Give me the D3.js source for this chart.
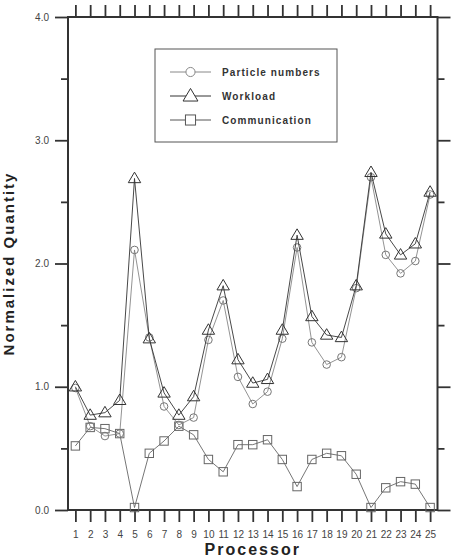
<!DOCTYPE html>
<html>
<head>
<meta charset="utf-8">
<script src="https://cdn.jsdelivr.net/npm/d3@7"></script>
<style>
  body { margin: 0; background: #fff; }
  svg { display: block; font-family: "Liberation Sans", Arial, sans-serif; }
</style>
</head>
<body>
<div class="vis-chart"></div>
<script>
// processor index 1..25
const processors = d3.range(1, 26);

const particleNumbers = [0.99, 0.68, 0.60, 0.62, 2.11, 1.40, 0.84, 0.69, 0.75, 1.38,
  1.70, 1.08, 0.86, 0.96, 1.39, 2.13, 1.36, 1.18, 1.24, 1.80,
  2.70, 2.07, 1.92, 2.02, 2.56];

const workload = [1.00, 0.77, 0.79, 0.89, 2.69, 1.39, 0.95, 0.77, 0.92, 1.46,
  1.82, 1.22, 1.03, 1.06, 1.46, 2.23, 1.57, 1.42, 1.40, 1.82,
  2.74, 2.24, 2.07, 2.16, 2.58];

const communication = [0.52, 0.67, 0.66, 0.62, 0.02, 0.46, 0.56, 0.68, 0.61, 0.41,
  0.31, 0.53, 0.53, 0.57, 0.41, 0.19, 0.41, 0.46, 0.44, 0.29,
  0.02, 0.18, 0.23, 0.21, 0.02];

const yMajor = [0, 1, 2, 3, 4];
const yMinor = [0.5, 1.5, 2.5, 3.5];

const seriesNames = ["Particle numbers", "Workload", "Communication"];

const draw = () => {
  const W = 457, H = 557;
  const left = 68, right = 437.5, top = 17, bottom = 510;

  const svg = d3.select(".vis-chart")
    .append("svg")
    .attr("width", W)
    .attr("height", H);

  const x = d3.scaleLinear().domain([0.5, 25.5]).range([left, right]);
  const y = d3.scaleLinear().domain([0, 4]).range([bottom, top]);

  const axisColor = "#333";

  // ticks
  const styleAxis = (g) => {
    g.select(".domain").remove();
    g.selectAll(".tick line").attr("stroke", axisColor).attr("stroke-width", 1.8);
    g.selectAll(".tick text").attr("fill", "#444").style("font-size", "10px");
  };

  svg.append("g")
    .attr("transform", "translate(" + left + ",0)")
    .call(d3.axisLeft(y).tickValues(yMajor).tickSize(13).tickPadding(6).tickFormat(d3.format(".1f")))
    .call(styleAxis);
  svg.append("g")
    .attr("transform", "translate(" + left + ",0)")
    .call(d3.axisLeft(y).tickValues(yMinor).tickSize(7).tickFormat(""))
    .call(styleAxis);
  svg.append("g")
    .attr("transform", "translate(" + right + ",0)")
    .call(d3.axisRight(y).tickValues(yMajor).tickSize(13).tickFormat(""))
    .call(styleAxis);
  svg.append("g")
    .attr("transform", "translate(" + right + ",0)")
    .call(d3.axisRight(y).tickValues(yMinor).tickSize(7).tickFormat(""))
    .call(styleAxis);
  svg.append("g")
    .attr("transform", "translate(0," + bottom + ")")
    .call(d3.axisBottom(x).tickValues(processors).tickSize(12).tickPadding(9).tickFormat(d3.format("d")))
    .call(styleAxis);
  svg.append("g")
    .attr("transform", "translate(0," + top + ")")
    .call(d3.axisTop(x).tickValues(processors).tickSize(12).tickFormat(""))
    .call(styleAxis);

  // frame
  svg.append("rect")
    .attr("x", left).attr("y", top)
    .attr("width", right - left).attr("height", bottom - top)
    .attr("fill", "none")
    .attr("stroke", axisColor)
    .attr("stroke-width", 2);

  // axis titles
  svg.append("text")
    .attr("transform", "translate(14," + (top + bottom) / 2 + ") rotate(-90)")
    .attr("text-anchor", "middle")
    .style("font-size", "15px")
    .style("font-weight", "bold")
    .style("letter-spacing", "2px")
    .attr("fill", "#222")
    .text("Normalized Quantity");

  svg.append("text")
    .attr("x", (left + right) / 2)
    .attr("y", 555)
    .attr("text-anchor", "middle")
    .style("font-size", "16px")
    .style("font-weight", "bold")
    .style("letter-spacing", "2px")
    .attr("fill", "#222")
    .text("Processor");

  // markers
  const marker = (g, type, s) => {
    if (type === "circle") {
      g.append("circle").attr("r", 3.8 * s);
    } else if (type === "triangle") {
      const w = 6.2 * s, h = 10.5 * s;
      g.append("path").attr("d", "M0," + (-h * 0.6) + "L" + w + "," + (h * 0.4) + "L" + (-w) + "," + (h * 0.4) + "Z");
    } else {
      const a = 4.2 * s;
      g.append("rect").attr("x", -a).attr("y", -a).attr("width", 2 * a).attr("height", 2 * a);
    }
  };

  const series = [
    { name: seriesNames[2], values: communication, type: "square", color: "#666", width: 0.9 },
    { name: seriesNames[0], values: particleNumbers, type: "circle", color: "#777", width: 0.8 },
    { name: seriesNames[1], values: workload, type: "triangle", color: "#333", width: 0.9 }
  ];

  const line = d3.line()
    .x((d, i) => x(processors[i]))
    .y((d) => y(d));

  series.forEach((s) => {
    svg.append("path")
      .attr("d", line(s.values))
      .attr("fill", "none")
      .attr("stroke", s.color)
      .attr("stroke-width", s.width);

    svg.append("g")
      .selectAll("g")
      .data(s.values)
      .enter()
      .append("g")
      .attr("transform", (d, i) => "translate(" + x(processors[i]) + "," + y(d) + ")")
      .attr("fill", "none")
      .attr("stroke", s.color)
      .attr("stroke-width", 1)
      .each(function () { marker(d3.select(this), s.type, 1); });
  });

  // legend
  const legend = svg.append("g");
  legend.append("rect")
    .attr("x", 155).attr("y", 49)
    .attr("width", 182).attr("height", 93)
    .attr("fill", "#fff")
    .attr("stroke", "#555")
    .attr("stroke-width", 1);

  const legendRows = [
    { name: seriesNames[0], type: "circle", color: "#888" },
    { name: seriesNames[1], type: "triangle", color: "#333" },
    { name: seriesNames[2], type: "square", color: "#555" }
  ];

  const legendG = legend.selectAll(".legend")
    .data(legendRows)
    .enter()
    .append("g")
    .attr("class", "legend")
    .attr("transform", (d, i) => "translate(0," + (72 + i * 24) + ")");

  legendG.append("line")
    .attr("x1", 170).attr("x2", 211)
    .attr("stroke", (d) => d.color)
    .attr("stroke-width", 1);

  legendG.append("g")
    .attr("transform", "translate(190.5,0)")
    .attr("fill", "#fff")
    .attr("stroke", (d) => d.color)
    .attr("stroke-width", 1)
    .each(function (d) { marker(d3.select(this), d.type, 1.2); });

  legendG.append("text")
    .attr("x", 222)
    .attr("y", 3.5)
    .style("font-size", "10px")
    .style("font-weight", "bold")
    .style("letter-spacing", "1.1px")
    .attr("fill", "#333")
    .text((d) => d.name);
};

draw();
</script>
</body>
</html>
